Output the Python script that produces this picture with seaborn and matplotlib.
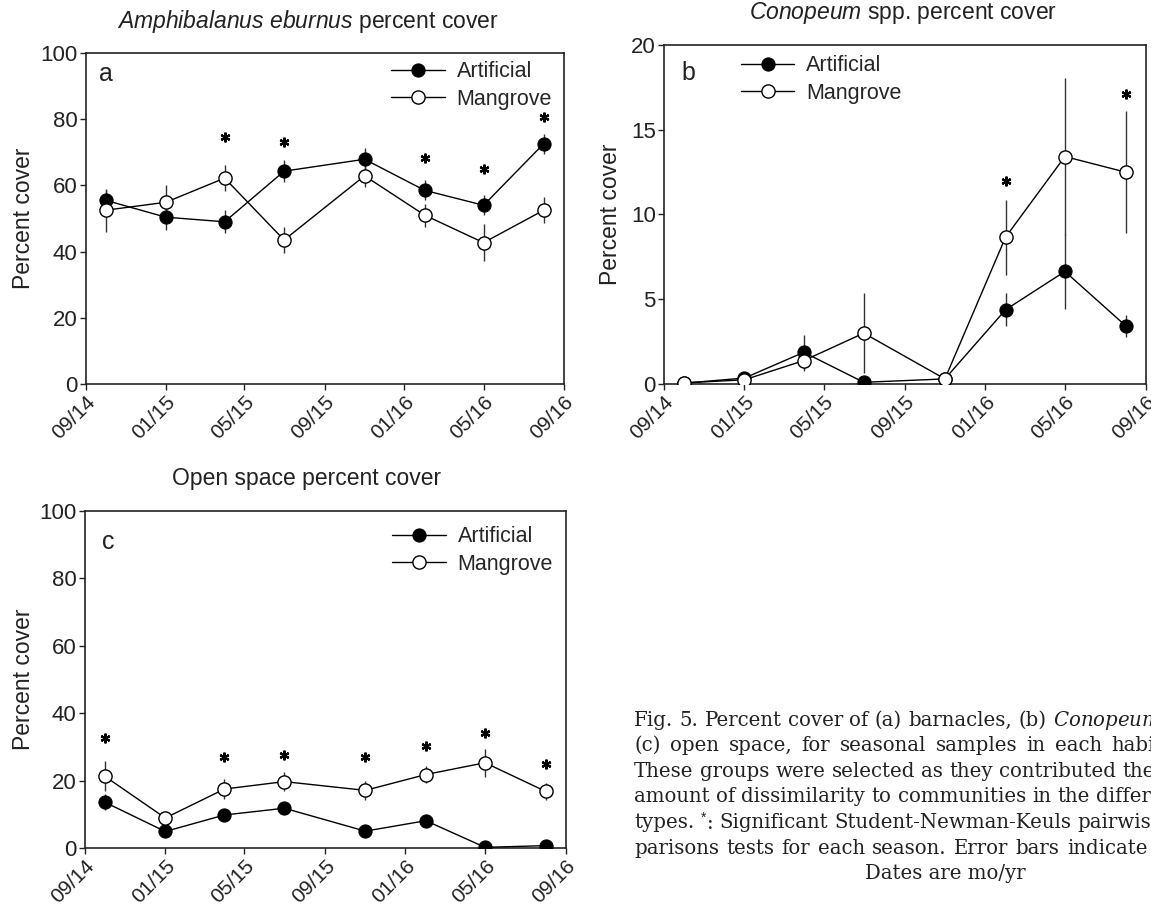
import matplotlib
matplotlib.use("Agg")
import matplotlib.pyplot as plt
import matplotlib.dates as mdates
import numpy as np
import pandas as pd
import seaborn as sns

# sampling dates (mo/yr)
dates = pd.to_datetime(["2014-10-01", "2015-01-01", "2015-04-01", "2015-07-01",
                        "2015-11-01", "2016-02-01", "2016-05-01", "2016-08-01"])
nan = np.nan

# (a) Amphibalanus eburnus
barn_art = [55.5, 50.4, 49.0, 64.3, 67.9, 58.5, 54.0, 72.6]
barn_art_se = [3.0, 4.0, 3.5, 3.3, 3.5, 3.0, 3.0, 3.0]
barn_man = [52.5, 54.9, 62.2, 43.5, 62.9, 51.0, 42.7, 52.5]
barn_man_se = [6.5, 5.3, 4.0, 4.0, 3.5, 3.5, 5.6, 4.0]
barn_sig = [nan, nan, 74.6, 73.1, nan, 68.4, 65.0, 80.6]

# (b) Conopeum spp.
cono_art = [0.05, 0.35, 1.87, 0.1, 0.3, 4.38, 6.64, 3.44]
cono_art_se = [0.0, 0.1, 1.0, 0.0, 0.1, 0.97, 2.2, 0.65]
cono_man = [0.06, 0.25, 1.38, 3.0, 0.3, 8.66, 13.42, 12.5]
cono_man_se = [0.0, 0.1, 0.6, 2.36, 0.1, 2.2, 4.62, 3.6]
cono_sig = [nan, nan, nan, nan, nan, 11.95, nan, 17.1]

# (c) open space
open_art = [13.6, 4.9, 9.8, 11.8, 5.0, 8.1, 0.2, 0.7]
open_art_se = [2.3, 1.0, 1.0, 1.0, 0.8, 1.0, 0.2, 0.3]
open_man = [21.3, 8.9, 17.5, 19.7, 17.1, 21.8, 25.3, 16.8]
open_man_se = [4.4, 1.5, 3.0, 2.8, 2.8, 2.4, 4.2, 2.5]
open_sig = [32.5, nan, 27.1, 27.6, 26.9, 30.4, 34.2, 24.9]

caption = [
    "Fig. 5. Percent cover of (a) barnacles, (b) $\\mathsf{Conopeum}$ spp., and",
    "(c) open space, for seasonal samples in each habitat.",
    "These groups were selected as they contributed the greatest",
    "amount of dissimilarity to communities in the different habitat",
    "types. $^{*}$: Significant Student-Newman-Keuls pairwise com-",
    "parisons tests for each season. Error bars indicate SE.",
]
caption_last = "Dates are mo/yr"

sns.set_style("ticks")
plt.rcParams["font.family"] = ["Liberation Sans", "DejaVu Sans"]
plt.rcParams["mathtext.fontset"] = "custom"
plt.rcParams["mathtext.rm"] = "Liberation Sans"
plt.rcParams["mathtext.it"] = "Liberation Sans:italic"
plt.rcParams["mathtext.sf"] = "DejaVu Serif:italic"

W, H = 1151, 905
fig = plt.figure(figsize=(W / 100, H / 100), dpi=100)


def px_axes(x0, y0, x1, y1):
    return fig.add_axes([x0 / W, 1 - y1 / H, (x1 - x0) / W, (y1 - y0) / H])


def panel(ax, art, art_se, man, man_se, sig, ymax, ystep, title, title_x,
          letter, letter_xy, leg_xy, ylab_x):
    ax.errorbar(dates, art, yerr=art_se, fmt="none", ecolor="#333333",
                elinewidth=1, zorder=1)
    ax.errorbar(dates, man, yerr=man_se, fmt="none", ecolor="#333333",
                elinewidth=1, zorder=1)
    sns.lineplot(x=dates, y=art, ax=ax, color="black", lw=1, marker="o",
                 markersize=9.5, markerfacecolor="black", markeredgecolor="black",
                 label="Artificial", zorder=3)
    sns.lineplot(x=dates, y=man, ax=ax, color="black", lw=1, marker="o",
                 markersize=9.5, markerfacecolor="white", markeredgecolor="black",
                 markeredgewidth=1, label="Mangrove", zorder=4)
    ax.plot(dates, sig, ls="none", marker=(6, 2, 0), ms=7, mew=1.6,
            color="black", zorder=5)

    ax.set_xlim(pd.Timestamp("2014-09-01"), pd.Timestamp("2016-09-01"))
    ax.xaxis.set_major_locator(mdates.MonthLocator(bymonth=[1, 5, 9]))
    ax.xaxis.set_major_formatter(mdates.DateFormatter("%m/%y"))
    ax.set_ylim(0, ymax)
    ax.set_yticks(np.arange(0, ymax + 0.1, ystep))
    ax.tick_params(axis="both", labelsize=15, length=4, width=1, pad=2,
                   direction="out", colors="#222222")
    ax.tick_params(axis="y", labelsize=16)
    for lab in ax.get_xticklabels():
        lab.set_rotation(45)
        lab.set_ha("right")
        lab.set_rotation_mode("anchor")
    for s in ax.spines.values():
        s.set_visible(True)
        s.set_linewidth(1.2)
        s.set_color("#222222")

    ax.set_xlabel("")
    ax.set_ylabel("Percent cover", fontsize=16.5, color="#222222")
    ax.yaxis.set_label_coords(ylab_x, 0.5)
    ax.text(title_x, 1.095, title, transform=ax.transAxes, ha="center",
            va="center", fontsize=16.5, color="#222222")
    ax.text(letter_xy[0], letter_xy[1], letter, transform=ax.transAxes,
            ha="center", va="center", fontsize=18, color="#222222")
    ax.legend(loc="upper left", bbox_to_anchor=leg_xy, frameon=False,
              fontsize=15.5, handlelength=2.5, handletextpad=0.55,
              borderpad=0, borderaxespad=0, labelspacing=0.3)


ax_a = px_axes(86, 53, 564, 384)
panel(ax_a, barn_art, barn_art_se, barn_man, barn_man_se, barn_sig, 100, 20,
      "$\\it{Amphibalanus\\ eburnus}$ percent cover", 0.463,
      "a", (0.042, 0.937), (0.638, 0.975), -0.107)

ax_b = px_axes(664, 45, 1146, 384)
panel(ax_b, cono_art, cono_art_se, cono_man, cono_man_se, cono_sig, 20, 5,
      "$\\it{Conopeum}$ spp. percent cover", 0.495,
      "b", (0.05, 0.917), (0.159, 0.97), -0.088)

ax_c = px_axes(85, 511, 566, 848)
panel(ax_c, open_art, open_art_se, open_man, open_man_se, open_sig, 100, 20,
      "Open space percent cover", 0.461,
      "c", (0.048, 0.908), (0.638, 0.955), -0.104)

# figure caption: justified block that runs off the right edge (page crop)
cap_x, cap_w, cap_y0, cap_dy = 634, 555, 720, 25.6
cap_style = dict(family="DejaVu Serif", fontsize=14.2, color="#222222",
                 ha="left", va="center")
renderer = fig.canvas.get_renderer()


def text_w(s):
    t = fig.text(0, 0, s, **cap_style)
    w = t.get_window_extent(renderer).width
    t.remove()
    return w


space_w = text_w("a a") - text_w("aa")
for i, line in enumerate(caption):
    y = 1 - (cap_y0 + i * cap_dy) / H
    words = [fig.text(0, y, w, **cap_style) for w in line.split(" ")]
    widths = [t.get_window_extent(renderer).width for t in words]
    gap = max(space_w, (cap_w - sum(widths)) / (len(words) - 1))
    x = cap_x
    for t, w in zip(words, widths):
        t.set_x(x / W)
        x += w + gap
fig.text(945 / W, 1 - (cap_y0 + len(caption) * cap_dy) / H,
         caption_last, **dict(cap_style, ha="center"))

fig.savefig("out.png", dpi=100)
